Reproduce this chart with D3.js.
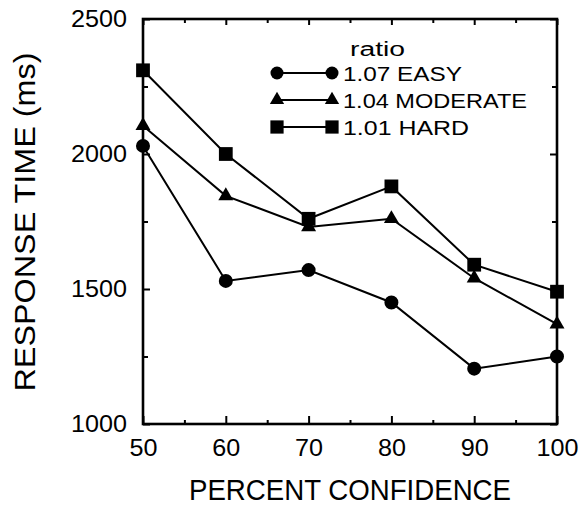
<!DOCTYPE html>
<html>
<head>
<meta charset="utf-8">
<script src="https://cdn.jsdelivr.net/npm/d3@7"></script>
<style>
  html, body { margin: 0; padding: 0; background: #fff; }
  svg { display: block; }
  text { font-family: "Liberation Sans", Arial, Helvetica, sans-serif; fill: #000; }
</style>
</head>
<body>
<svg id="chart" width="579" height="505"></svg>
<script>
// Percent confidence levels (x) and mean response times in ms (y)
const confidence = [50, 60, 70, 80, 90, 100];
const easy     = [2030, 1530, 1570, 1450, 1205, 1250];
const moderate = [2105, 1845, 1730, 1760, 1540, 1370];
const hard     = [2310, 2000, 1760, 1880, 1590, 1490];

const seriesNames  = ["1.07 EASY", "1.04 MODERATE", "1.01 HARD"];
const seriesValues = [easy, moderate, hard];
const legendTitle = "ratio";

const xTicks = [50, 60, 70, 80, 90, 100];
const xMinorTicks = [55, 65, 75, 85, 95];
const yTicks = [1000, 1500, 2000, 2500];
const yMinorTicks = [1250, 1750, 2250];

const xTitle = "PERCENT CONFIDENCE";
const yTitle = "RESPONSE TIME (ms)";

const svg = d3.select("#chart");
const plotLeft = 143, plotRight = 557, plotTop = 19, plotBottom = 424;

const x = d3.scaleLinear().domain([50, 100]).range([plotLeft, plotRight]);
const y = d3.scaleLinear().domain([1000, 2500]).range([plotBottom, plotTop]);

const symbols = [d3.symbolCircle, d3.symbolTriangle, d3.symbolSquare];
const symbolSizes = [154, 97, 190];
const legendSizes = [133, 88, 175];
const plain = d3.format("d");

// Axes: inward ticks on all four sides
function styleAxis(g) {
  g.select(".domain").remove();
  g.selectAll(".tick line").attr("stroke", "#000").attr("stroke-width", 2);
}
function styleLabels(g) {
  g.selectAll("text")
    .attr("font-size", 24)
    .attr("fill", "#000")
    .attr("font-family", "Liberation Sans, Arial, sans-serif");
}

svg.append("g")
  .attr("transform", `translate(0,${plotBottom})`)
  .call(d3.axisBottom(x).tickValues(xTicks).tickFormat(plain)
    .tickSizeInner(-8).tickSizeOuter(0).tickPadding(15))
  .call(styleAxis)
  .call(styleLabels)
  .call(g => g.selectAll("text").attr("textLength", d => String(d).length * 14)
    .attr("lengthAdjust", "spacingAndGlyphs"));

svg.append("g")
  .attr("transform", `translate(0,${plotBottom})`)
  .call(d3.axisBottom(x).tickValues(xMinorTicks).tickSizeInner(-4).tickSizeOuter(0).tickFormat(""))
  .call(styleAxis);

svg.append("g")
  .attr("transform", `translate(${plotLeft},0)`)
  .call(d3.axisLeft(y).tickValues(yTicks).tickFormat(plain)
    .tickSizeInner(-7).tickSizeOuter(0).tickPadding(16))
  .call(styleAxis)
  .call(styleLabels)
  .call(g => g.selectAll("text").attr("textLength", 56)
    .attr("lengthAdjust", "spacingAndGlyphs"));

svg.append("g")
  .attr("transform", `translate(${plotLeft},0)`)
  .call(d3.axisLeft(y).tickValues(yMinorTicks).tickSizeInner(-5).tickSizeOuter(0).tickFormat(""))
  .call(styleAxis);

svg.append("g")
  .attr("transform", `translate(0,${plotTop})`)
  .call(d3.axisTop(x).tickValues(xTicks).tickSizeInner(-6).tickSizeOuter(0).tickFormat(""))
  .call(styleAxis);

svg.append("g")
  .attr("transform", `translate(0,${plotTop})`)
  .call(d3.axisTop(x).tickValues(xMinorTicks).tickSizeInner(-4).tickSizeOuter(0).tickFormat(""))
  .call(styleAxis);

svg.append("g")
  .attr("transform", `translate(${plotRight},0)`)
  .call(d3.axisRight(y).tickValues(yTicks).tickSizeInner(-7).tickSizeOuter(0).tickFormat(""))
  .call(styleAxis);

svg.append("g")
  .attr("transform", `translate(${plotRight},0)`)
  .call(d3.axisRight(y).tickValues(yMinorTicks).tickSizeInner(-5).tickSizeOuter(0).tickFormat(""))
  .call(styleAxis);

// Frame
svg.append("rect")
  .attr("x", plotLeft).attr("y", plotTop)
  .attr("width", plotRight - plotLeft).attr("height", plotBottom - plotTop)
  .attr("fill", "none").attr("stroke", "#000").attr("stroke-width", 2.6);

// Axis titles
svg.append("text")
  .attr("x", (plotLeft + plotRight) / 2).attr("y", 500)
  .attr("text-anchor", "middle")
  .attr("font-size", 29)
  .attr("textLength", 322).attr("lengthAdjust", "spacingAndGlyphs")
  .text(xTitle);

svg.append("text")
  .attr("transform", "translate(35,222) rotate(-90)")
  .attr("text-anchor", "middle")
  .attr("font-size", 29)
  .attr("textLength", 339).attr("lengthAdjust", "spacingAndGlyphs")
  .text(yTitle);

// Series lines and markers
const line = d3.line()
  .x((d, i) => x(confidence[i]))
  .y(d => y(d));

seriesValues.forEach((vals, s) => {
  svg.append("path")
    .datum(vals)
    .attr("d", line)
    .attr("fill", "none")
    .attr("stroke", "#000")
    .attr("stroke-width", 2);
});

seriesValues.forEach((vals, s) => {
  svg.append("g")
    .selectAll("path")
    .data(vals)
    .join("path")
    .attr("transform", (d, i) => `translate(${x(confidence[i])},${y(d)})`)
    .attr("d", d3.symbol().type(symbols[s]).size(symbolSizes[s]))
    .attr("fill", "#000");
});

// Legend
const legend = svg.append("g");
legend.append("text")
  .attr("x", 350).attr("y", 56)
  .attr("font-size", 20)
  .attr("textLength", 55).attr("lengthAdjust", "spacingAndGlyphs")
  .text(legendTitle);

const rowY = [73, 100, 127];
const textLens = [119, 184, 126];
seriesNames.forEach((name, s) => {
  const ly = rowY[s];
  legend.append("line")
    .attr("x1", 277).attr("x2", 332)
    .attr("y1", ly).attr("y2", ly)
    .attr("stroke", "#000").attr("stroke-width", 2);
  [277, 332].forEach(lx => {
    legend.append("path")
      .attr("transform", `translate(${lx},${ly})`)
      .attr("d", d3.symbol().type(symbols[s]).size(legendSizes[s]))
      .attr("fill", "#000");
  });
  legend.append("text")
    .attr("x", 343).attr("y", ly + 7.5)
    .attr("font-size", 20)
    .attr("textLength", textLens[s]).attr("lengthAdjust", "spacingAndGlyphs")
    .text(name);
});
</script>
</body>
</html>
